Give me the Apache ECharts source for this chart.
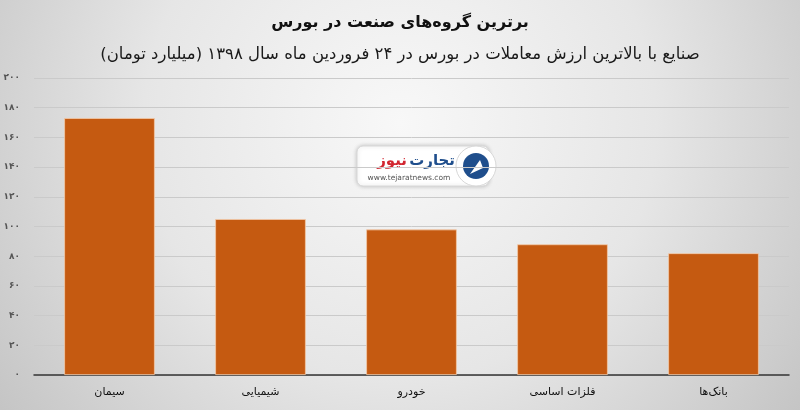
<!DOCTYPE html>
<html>
<head>
<meta charset="utf-8">
<script src="https://cdn.jsdelivr.net/npm/echarts@6/dist/echarts.min.js"></script>
<style>html,body{margin:0;padding:0;}#c{width:800px;height:410px;}</style>
</head>
<body>
<div id="c"></div>
<script>
var titleText = 'برترین گروه‌های صنعت در بورس';
var subtitleText = 'صنایع با بالاترین ارزش معاملات در بورس در ۲۴ فروردین ماه سال ۱۳۹۸ (میلیارد تومان)';
var categories = ['سیمان', 'شیمیایی', 'خودرو', 'فلزات اساسی', 'بانک‌ها'];
var values = [173, 105, 98, 88, 82];
var yTickLabels = ['۰','۲۰','۴۰','۶۰','۸۰','۱۰۰','۱۲۰','۱۴۰','۱۶۰','۱۸۰','۲۰۰'];

var font = 'DejaVu Sans';
var chart = echarts.init(document.getElementById('c'));
chart.setOption({
  backgroundColor: {
    type: 'radial', x: 0.5, y: 0.3, r: 1.25,
    colorStops: [{offset: 0, color: '#f8f8f8'}, {offset: 0.5, color: '#e6e6e6'}, {offset: 1, color: '#c2c2c2'}]
  },
  title: [
    {text: titleText, left: 'center', top: 10, textStyle: {fontFamily: font, fontSize: 16, fontWeight: 'bold', color: '#111'}},
    {text: subtitleText, left: 'center', top: 41, textStyle: {fontFamily: font, fontSize: 16.5, fontWeight: 'normal', color: '#1a1a1a'}}
  ],
  grid: {left: 34, right: 11, top: 78, bottom: 35},
  xAxis: {
    type: 'category', data: categories,
    axisLine: {lineStyle: {color: '#333', width: 1.5}},
    axisTick: {show: false},
    axisLabel: {fontFamily: font, fontSize: 11, color: '#111', margin: 12}
  },
  yAxis: {
    type: 'value', min: 0, max: 200, interval: 20,
    axisLine: {show: false}, axisTick: {show: false},
    splitLine: {lineStyle: {color: '#cacaca', width: 1}},
    axisLabel: {
      fontFamily: font, fontSize: 9, fontWeight: 'bold', color: '#555', margin: 14,
      formatter: function (v) { return yTickLabels[Math.round(v / 20)]; }
    }
  },
  series: [{
    type: 'bar', data: values, barCategoryGap: '40%',
    itemStyle: {color: '#C55A11', borderColor: '#f3c9a8', borderWidth: 0.8},
    silent: true
  }],
  graphic: [
    {type: 'rect', shape: {x: 357, y: 146, width: 132, height: 40, r: 6},
     style: {fill: '#ffffff', stroke: '#d8d8d8', lineWidth: 1, shadowBlur: 4, shadowColor: 'rgba(0,0,0,0.2)'}},
    {type: 'circle', shape: {cx: 476, cy: 166, r: 20},
     style: {fill: '#ffffff', stroke: '#d8d8d8', lineWidth: 1}},
    {type: 'circle', shape: {cx: 476, cy: 166, r: 13},
     style: {fill: '#1f4e8c'}},
    {type: 'polygon', shape: {points: [[470, 174], [480, 160], [483, 168]]}, style: {fill: '#ffffff'}},
    {type: 'text', style: {x: 455, y: 161, text: 'تجارت', textAlign: 'right', textVerticalAlign: 'middle',
      fontFamily: font, fontSize: 15, fontWeight: 'bold', fill: '#1f4e8c'}},
    {type: 'text', style: {x: 407, y: 161, text: 'نیوز', textAlign: 'right', textVerticalAlign: 'middle',
      fontFamily: font, fontSize: 15, fontWeight: 'bold', fill: '#d22630'}},
    {type: 'text', style: {x: 409, y: 178, text: 'www.tejaratnews.com', textAlign: 'center', textVerticalAlign: 'middle',
      fontFamily: font, fontSize: 7.5, fill: '#555'}}
  ]
});
</script>
</body>
</html>
